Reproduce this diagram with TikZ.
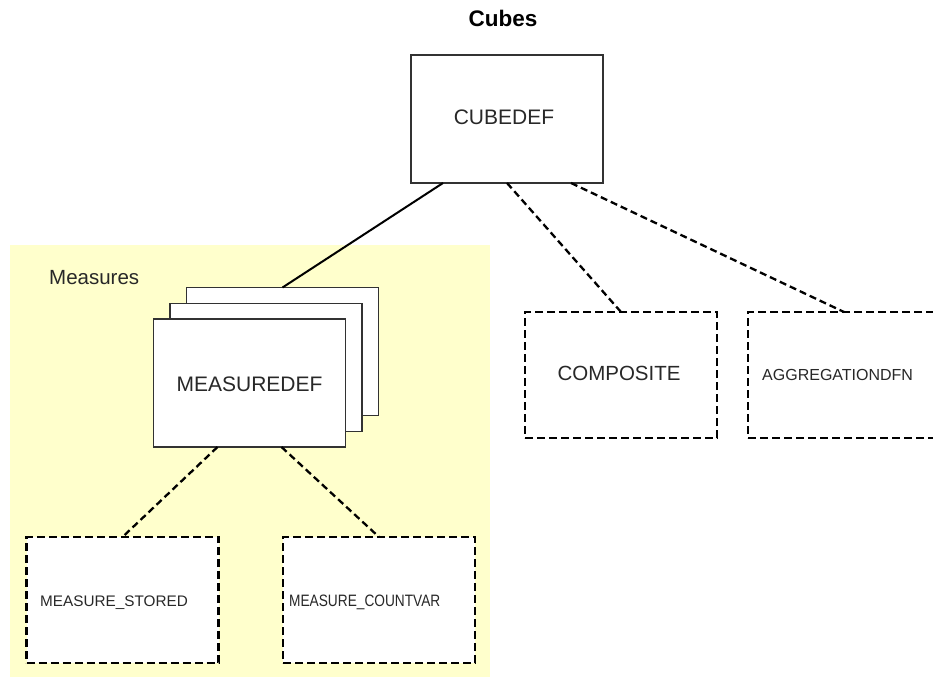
\documentclass[tikz,border=0pt]{standalone}
\usepackage{fontspec}
\setmainfont{Liberation Sans}
\usetikzlibrary{calc}
\definecolor{measyellow}{RGB}{255,255,204}
\definecolor{boxline}{RGB}{50,50,50}
\definecolor{txt}{RGB}{40,40,40}
\tikzset{
  solidbox/.style={draw=boxline, line width=1.4pt, fill=white, minimum width=192pt, minimum height=128pt, inner sep=0pt, outer sep=0pt},
  dashbox/.style={draw=black, line width=2.3pt, dash pattern=on 8pt off 4pt, fill=white, minimum width=192pt, minimum height=126pt, inner sep=0pt, outer sep=0pt},
  solidlink/.style={draw=black, line width=2pt},
  dashlink/.style={draw=black, line width=2.3pt, dash pattern=on 7pt off 4pt},
  lbl/.style={text=txt, inner sep=0pt, anchor=base},
}
\begin{document}
\begin{tikzpicture}[x=1pt,y=-1pt]
\useasboundingbox (0,0) rectangle (933,677);
\clip (0,0) rectangle (933,677);
% Measures region
\fill[measyellow] (10,245) rectangle (490,677);
\node[lbl, anchor=base west, font=\fontsize{20.5}{24}\selectfont] (measureslbl) at (49,284) {Measures};
% title
\node[lbl, font=\fontsize{22.5}{26}\selectfont\bfseries, text=black] (title) at (503,27) {Cubes};
% boxes
\node[solidbox] (cube) at (507,119) {};
\node[lbl, font=\fontsize{21}{25}\selectfont] (cubetxt) at (504,124) {CUBEDEF};
\node[solidbox] (back) at (282.5,351.5) {};
\node[solidbox] (middle) at (266,367.5) {};
\node[solidbox] (front) at (249.5,383) {};
\node[lbl, font=\fontsize{21}{25}\selectfont] (fronttxt) at (249.5,391) {MEASUREDEF};
\node[dashbox] (comp) at (621,375) {};
\node[lbl, font=\fontsize{20.5}{24}\selectfont] (comptxt) at (619,380) {COMPOSITE};
\node[dashbox] (agg) at (844,375) {};
\node[lbl, anchor=base west, font=\fontsize{16}{19}\selectfont] (aggtxt) at (762,380) {AGGREGATIONDFN};
\node[dashbox] (stored) at (122.5,600) {};
\node[lbl, anchor=base west, font=\fontsize{15.3}{18}\selectfont] (storedtxt) at (40,606) {MEASURE\_STORED};
\node[dashbox] (countvar) at (379,600) {};
\node[lbl, anchor=base west, font=\fontsize{16.5}{19}\selectfont, xscale=0.83] (countvartxt) at (289,606) {MEASURE\_COUNTVAR};
% connectors
\draw[solidlink] ($(cube.south west)!1/6!(cube.south east)$) -- (back.north);
\draw[dashlink] (cube.south) -- (comp.north);
\draw[dashlink] ($(cube.south west)!5/6!(cube.south east)$) -- (agg.north);
\draw[dashlink] ($(front.south west)!1/3!(front.south east)$) -- (stored.north);
\draw[dashlink] ($(front.south west)!2/3!(front.south east)$) -- (countvar.north);
\end{tikzpicture}
\end{document}
